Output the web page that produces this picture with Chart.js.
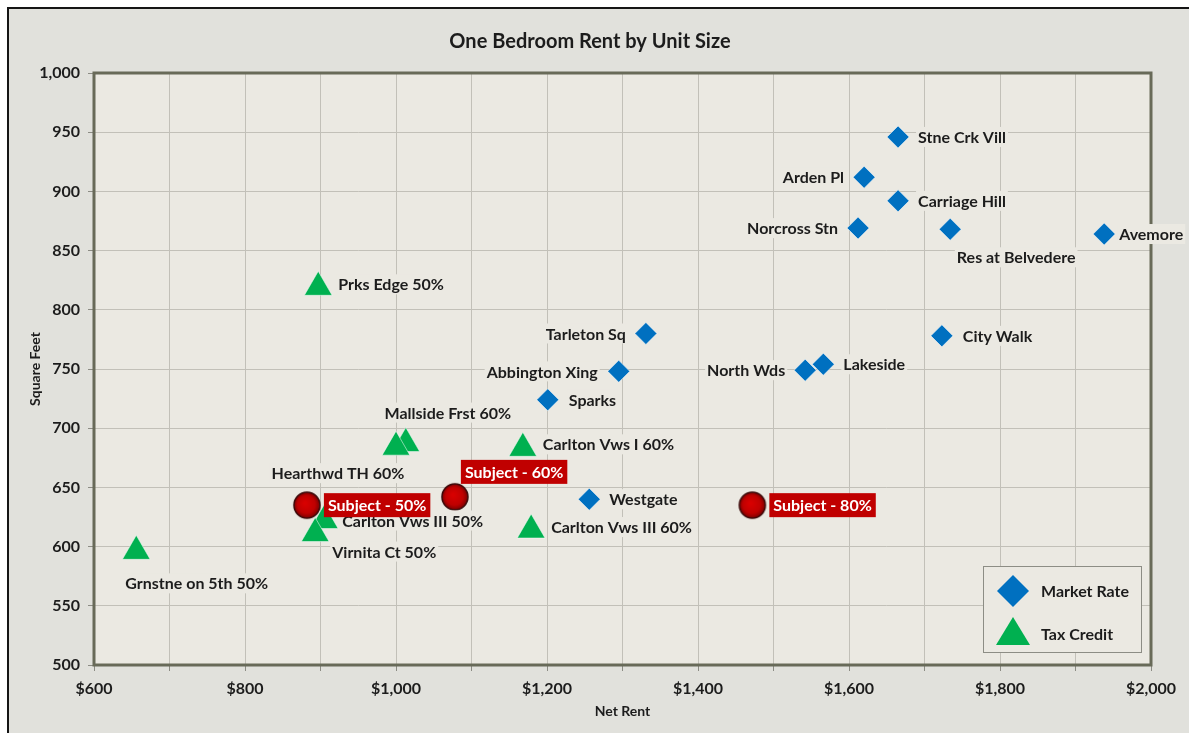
<!DOCTYPE html>
<html>
<head>
<meta charset="utf-8">
<title>One Bedroom Rent by Unit Size</title>
<script src="https://cdn.jsdelivr.net/npm/chart.js@4.4.1/dist/chart.umd.min.js"></script>
<style>
    html, body { margin: 0; padding: 0; background: #fff; overflow: hidden; }
    #frame { position: absolute; left: 7px; top: 7px; width: 1200px; height: 800px; border: 2px solid #151515; background: #e1e1dc; }
    #wrap { position: absolute; left: 0; top: 0; width: 1189px; height: 733px; }
</style>
</head>
<body>
<div id="frame"></div>
<div id="wrap"><canvas id="rentChart"></canvas></div>
<script>
// donnees
const marketNames = ["Stne Crk Vill", "Arden Pl", "Carriage Hill", "Norcross Stn", "Res at Belvedere", "Avemore",
    "Tarleton Sq", "City Walk", "Abbington Xing", "North Wds", "Lakeside", "Sparks", "Westgate"];
const marketRent = [1665, 1620, 1665, 1612, 1734, 1938, 1331, 1723, 1295, 1542, 1566, 1201, 1256];
const marketSqft = [946, 912, 892, 869, 868, 864, 780, 778, 748, 749, 754, 724, 640];

const taxNames = ["Prks Edge 50%", "Mallside Frst 60%", "Hearthwd TH 60%", "Carlton Vws I 60%",
    "Carlton Vws III 50%", "Virnita Ct 50%", "Carlton Vws III 60%", "Grnstne on 5th 50%"];
const taxRent = [897, 1013, 1000, 1168, 905, 893, 1179, 656];
const taxSqft = [819, 687, 684, 683, 622, 611, 614, 596];

const subjectNames = ["Subject - 50%", "Subject - 60%", "Subject - 80%"];
const subjectRent = [882, 1078, 1472];
const subjectSqft = [635, 642, 635];

// placement des etiquettes : [alignement, dx, dy] en px par rapport au point
const labelPlacement = {
    "Stne Crk Vill": ["left", 20, 0],
    "Arden Pl": ["right", -20, 0],
    "Carriage Hill": ["left", 20, 0],
    "Norcross Stn": ["right", -20, 0],
    "Res at Belvedere": ["center", 66, 28],
    "Avemore": ["left", 15, 0],
    "Tarleton Sq": ["right", -20, 0],
    "City Walk": ["left", 21, 0],
    "Abbington Xing": ["right", -21, 0],
    "North Wds": ["right", -20, 0],
    "Lakeside": ["left", 20, 0],
    "Sparks": ["left", 21, 0],
    "Westgate": ["left", 20, 0],
    "Prks Edge 50%": ["left", 20, -3],
    "Mallside Frst 60%": ["center", 42, -31],
    "Hearthwd TH 60%": ["center", -58, 26],
    "Carlton Vws I 60%": ["left", 20, -4],
    "Carlton Vws III 50%": ["left", 18, 0],
    "Virnita Ct 50%": ["left", 17, 18],
    "Carlton Vws III 60%": ["left", 20, -3],
    "Grnstne on 5th 50%": ["left", -11, 32],
    "Subject - 50%": ["box", 17, 0],
    "Subject - 60%": ["box", 6, -25],
    "Subject - 80%": ["box", 17, 0]
};

const FONT = "Lato, 'Open Sans', sans-serif";
const PLOT_BG = "#ebe9e2";
const TEXT = "#1c1c1c";

function toPoints(xs, ys) {
    return xs.map((x, i) => ({ x: x, y: ys[i] }));
}

// boule rouge du sujet
function makeBall(r) {
    const c = document.createElement("canvas");
    const s = r * 2 + 4;
    c.width = c.height = s;
    const g = c.getContext("2d");
    const grad = g.createRadialGradient(s / 2 - 2, s / 2 - 2, 1, s / 2, s / 2, r);
    grad.addColorStop(0, "#d80000");
    grad.addColorStop(0.65, "#c00000");
    grad.addColorStop(1, "#7d0000");
    g.beginPath();
    g.arc(s / 2, s / 2, r, 0, Math.PI * 2);
    g.fillStyle = grad;
    g.fill();
    g.lineWidth = 1.5;
    g.strokeStyle = "#3a0808";
    g.stroke();
    return c;
}

const plotFrame = {
    id: "plotFrame",
    beforeDraw(chart) {
        const { ctx, chartArea: a } = chart;
        ctx.save();
        ctx.fillStyle = PLOT_BG;
        ctx.fillRect(a.left, a.top, a.right - a.left, a.bottom - a.top);
        ctx.restore();
    },
    beforeDatasetsDraw(chart) {
        const { ctx, chartArea: a } = chart;
        ctx.save();
        ctx.strokeStyle = "#686a58";
        ctx.lineWidth = 3;
        ctx.strokeRect(a.left, a.top, a.right - a.left, a.bottom - a.top);
        ctx.restore();
    }
};

const pointLabels = {
    id: "pointLabels",
    afterDraw(chart) {
        const ctx = chart.ctx;
        ctx.save();
        ctx.font = "bold 16px " + FONT;
        ctx.textBaseline = "middle";
        chart.data.datasets.forEach((ds, i) => {
            const meta = chart.getDatasetMeta(i);
            meta.data.forEach((pt, j) => {
                const name = ds.names[j];
                const [align, dx, dy] = labelPlacement[name] || ["left", 18, 0];
                const w = ctx.measureText(name).width;
                const y = pt.y + dy;
                if (align === "box") {
                    const left = pt.x + dx;
                    ctx.fillStyle = "#c00000";
                    ctx.fillRect(left, y - 12, w + 8, 24);
                    ctx.fillStyle = "#ffffff";
                    ctx.textAlign = "left";
                    ctx.fillText(name, left + 4, y + 1);
                    return;
                }
                let left = pt.x + dx;
                if (align === "right") left -= w;
                if (align === "center") left -= w / 2;
                ctx.fillStyle = PLOT_BG;
                ctx.fillRect(left - 2, y - 10, w + 4, 20);
                ctx.fillStyle = TEXT;
                ctx.textAlign = "left";
                ctx.fillText(name, left, y + 1);
            });
        });

        // legende (Market Rate / Tax Credit)
        const lx = 983, ly = 566, lw = 158, lh = 86;
        ctx.fillStyle = PLOT_BG;
        ctx.fillRect(lx, ly, lw, lh);
        ctx.strokeStyle = "#8d8d85";
        ctx.lineWidth = 1;
        ctx.strokeRect(lx + 0.5, ly + 0.5, lw, lh);

        const items = chart.data.datasets.filter(d => d.inLegend);
        items.forEach((d, k) => {
            const cx = 1013, cy = 591 + k * 43;
            ctx.beginPath();
            if (d.pointStyle === "rectRot") {
                ctx.moveTo(cx - 16, cy);
                ctx.lineTo(cx, cy - 16);
                ctx.lineTo(cx + 16, cy);
                ctx.lineTo(cx, cy + 16);
            } else {
                ctx.moveTo(cx, cy - 17);
                ctx.lineTo(cx + 17, cy + 11);
                ctx.lineTo(cx - 17, cy + 11);
            }
            ctx.closePath();
            ctx.fillStyle = d.backgroundColor;
            ctx.fill();
            ctx.fillStyle = TEXT;
            ctx.textAlign = "left";
            ctx.fillText(d.label, 1041, cy + 1);
        });

        // titre
        ctx.font = "bold 20px " + FONT;
        ctx.textAlign = "center";
        ctx.fillStyle = TEXT;
        ctx.fillText("One Bedroom Rent by Unit Size", 590, 42);
        ctx.restore();
    }
};

const ctxRent = document.getElementById("rentChart").getContext("2d");

const rentChart = new Chart(ctxRent, {
    type: "scatter",
    data: {
        datasets: [
            {
                label: "Market Rate",
                names: marketNames,
                inLegend: true,
                data: toPoints(marketRent, marketSqft),
                pointStyle: "rectRot",
                pointRadius: 11,
                backgroundColor: "#0070c0",
                borderColor: "rgba(255,255,255,0.5)",
                borderWidth: 1,
                order: 1
            },
            {
                label: "Tax Credit",
                names: taxNames,
                inLegend: true,
                data: toPoints(taxRent, taxSqft),
                pointStyle: "triangle",
                pointRadius: 16,
                backgroundColor: "#00b050",
                borderColor: "rgba(255,255,255,0.5)",
                borderWidth: 1,
                order: 2
            },
            {
                label: "Subject",
                names: subjectNames,
                inLegend: false,
                data: toPoints(subjectRent, subjectSqft),
                pointStyle: makeBall(13),
                pointRadius: 13,
                backgroundColor: "#c00000",
                order: 0
            }
        ]
    },
    options: {
        animation: false,
        responsive: true,
        maintainAspectRatio: false,
        events: [],
        layout: { padding: { left: 0, right: 38, top: 73, bottom: 0 } },
        plugins: {
            legend: { display: false },
            tooltip: { enabled: false },
            title: { display: false }
        },
        scales: {
            x: {
                type: "linear",
                min: 600,
                max: 2000,
                afterFit: s => { s.height = 68; },
                ticks: {
                    stepSize: 100,
                    padding: 8,
                    color: TEXT,
                    font: { family: FONT, size: 16, weight: "bold" },
                    callback: v => (v % 200 === 0 ? "$" + v.toLocaleString("en-US") : "")
                },
                grid: { color: "#c2c0b8", lineWidth: 1, tickLength: 6, tickColor: "#8c8c84" },
                border: { display: false },
                title: {
                    display: true,
                    text: "Net Rent",
                    color: TEXT,
                    font: { family: FONT, size: 14, weight: "bold" },
                    padding: { top: 0, bottom: 13 }
                }
            },
            y: {
                type: "linear",
                min: 500,
                max: 1000,
                afterFit: s => { s.width = 94; },
                ticks: {
                    stepSize: 50,
                    padding: 8,
                    color: TEXT,
                    font: { family: FONT, size: 16, weight: "bold" },
                    callback: v => v.toLocaleString("en-US")
                },
                grid: { color: "#c2c0b8", lineWidth: 1, tickLength: 6, tickColor: "#8c8c84" },
                border: { display: false },
                title: {
                    display: true,
                    text: "Square Feet",
                    color: TEXT,
                    font: { family: FONT, size: 14, weight: "bold" },
                    padding: { top: 27, bottom: 0 }
                }
            }
        }
    },
    plugins: [plotFrame, pointLabels]
});
</script>
</body>
</html>
